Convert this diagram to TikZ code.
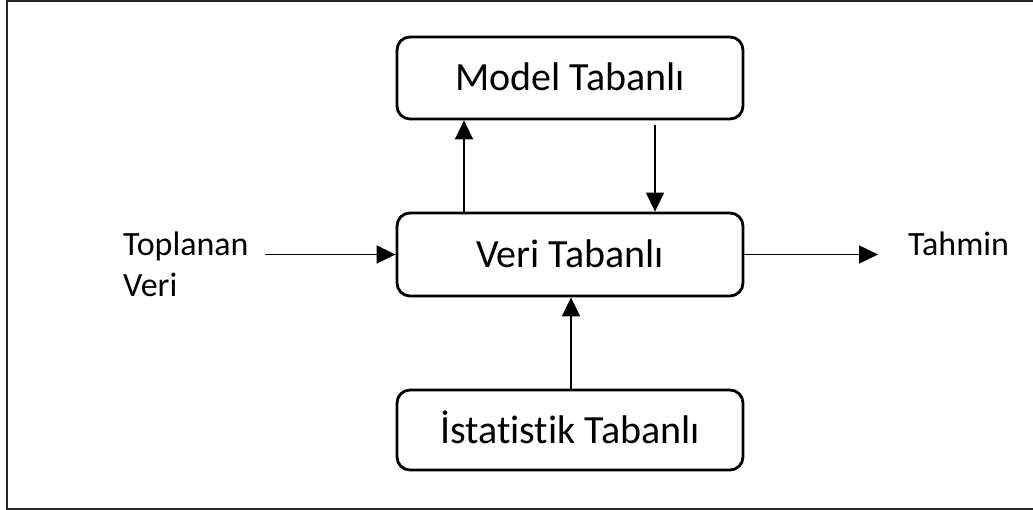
\documentclass[tikz,border=0pt]{standalone}
\usepackage{fontspec}
\setmainfont{Carlito}[Ligatures=NoCommon]
\usetikzlibrary{arrows.meta}

\tikzset{
  block/.style={draw=black, line width=2.8pt, rounded corners=13pt,
    minimum width=346pt, inner sep=0pt, text height=26pt, text depth=0pt,
    font=\fontsize{40}{48}\selectfont},
  sidelabel/.style={inner sep=0pt, align=left,
    font=\fontsize{34}{41}\selectfont},
  flow/.style={draw=black, line width=1.5pt,
    -{Triangle[length=19pt,width=18pt]}},
  frame/.style={draw=black!85, line width=2.2pt}
}

\begin{document}
\begin{tikzpicture}[x=1pt, y=-1pt]
  \useasboundingbox (0,0) rectangle (1033,510);
  \draw[frame] (7,1) rectangle (1036,509);

  % the three approaches
  \node[block, minimum height=82pt] (model) at (570,78)    {Model Tabanlı};
  \node[block, minimum height=83pt] (veri)  at (570,254.5) {Veri Tabanlı};
  \node[block, minimum height=80pt] (ist)   at (570,430)   {İstatistik Tabanlı};

  % input and output labels (base anchor sits on the last line)
  \node[sidelabel, anchor=base west] (girdi) at (123,297) {Toplanan\\Veri};
  \node[sidelabel, anchor=base west] (cikti) at (908,256) {Tahmin};

  \coordinate (inStart) at (265,254.5);
  \coordinate (outEnd)  at (878,254.5);

  % connections
  \draw[flow] (inStart) -- (veri.west);
  \draw[flow] (veri.east) -- (outEnd);
  \draw[flow] ([xshift=-106pt]veri.north) -- ([xshift=-106pt]model.south);
  \draw[flow] ([xshift=85pt,yshift=-5pt]model.south) -- ([xshift=85pt]veri.north);
  \draw[flow] ([xshift=1pt]ist.north) -- ([xshift=1pt]veri.south);
\end{tikzpicture}
\end{document}
